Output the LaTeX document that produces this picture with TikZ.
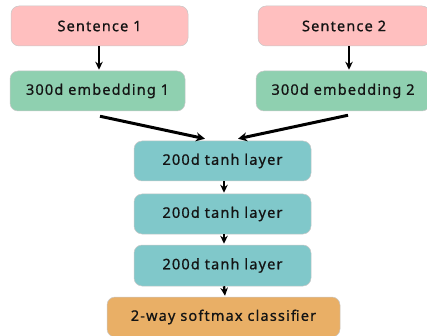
\documentclass[tikz,border=0pt]{standalone}
\usepackage{fontspec}
\setmainfont[LetterSpace=8,FakeBold=0.8]{Noto Sans}
\usetikzlibrary{arrows.meta}
\definecolor{pinkbox}{RGB}{255,191,191}
\definecolor{greenbox}{RGB}{143,208,176}
\definecolor{tealbox}{RGB}{128,200,202}
\definecolor{orangebox}{RGB}{233,175,102}
\definecolor{edgegray}{RGB}{200,200,200}
\tikzset{
  box/.style={draw=edgegray, line width=0.5pt, rounded corners=8pt, minimum height=40pt,
    inner sep=0pt, font=\fontsize{14.5}{16}\selectfont, text=black!92},
  arr/.style={-{Stealth[length=8pt,width=7.5pt]}, line width=2.4pt, black},
  diag/.style={-{Stealth[length=9pt,width=9pt]}, line width=3pt, black},
}
\begin{document}
\begin{tikzpicture}[x=1pt,y=-1pt]
\useasboundingbox (0,0) rectangle (427,336);
\clip (0,0) rectangle (427,336);
% input sentences
\node[box, fill=pinkbox, minimum width=177pt] (s1) at (99.5,26) {Sentence 1};
\node[box, fill=pinkbox, minimum width=172pt] (s2) at (344,26) {Sentence 2};
% embeddings
\node[box, fill=greenbox, minimum width=175pt] (e1) at (97.5,91) {300d embedding 1};
\node[box, fill=greenbox, minimum width=174pt] (e2) at (343,91) {300d embedding 2};
% hidden layers
\node[box, fill=tealbox, minimum width=177pt] (t1) at (222.5,161) {200d tanh layer};
\node[box, fill=tealbox, minimum width=177pt] (t2) at (222.5,214) {200d tanh layer};
\node[box, fill=tealbox, minimum width=177pt, minimum height=41pt] (t3) at (222.5,265.5) {200d tanh layer};
% output
\node[box, fill=orangebox, minimum width=233pt] (c) at (223.5,317) {2-way softmax classifier};
% connectors
\draw[arr] ([xshift=-0.5pt]s1.south) -- ([xshift=-0.5pt,yshift=1pt]e1.north -| s1.south);
\draw[arr] ([xshift=5pt]s2.south) -- ([xshift=5pt,yshift=1pt]s2.south |- e2.north);
\draw[diag] ([shift={(2.5,5)}]e1.south) -- ([shift={(-17.5,-2)}]t1.north);
\draw[diag] ([shift={(5,4)}]e2.south) -- ([shift={(15.5,-2)}]t1.north);
\draw[arr] ([xshift=1.5pt]t1.south) -- ([xshift=1.5pt,yshift=1pt]t2.north);
\draw[arr] ([xshift=1.5pt]t2.south) -- ([xshift=1.5pt,yshift=1pt]t3.north);
\draw[arr] ([xshift=1.5pt]t3.south) -- ([xshift=1.5pt,yshift=1pt]c.north);
\end{tikzpicture}
\end{document}
